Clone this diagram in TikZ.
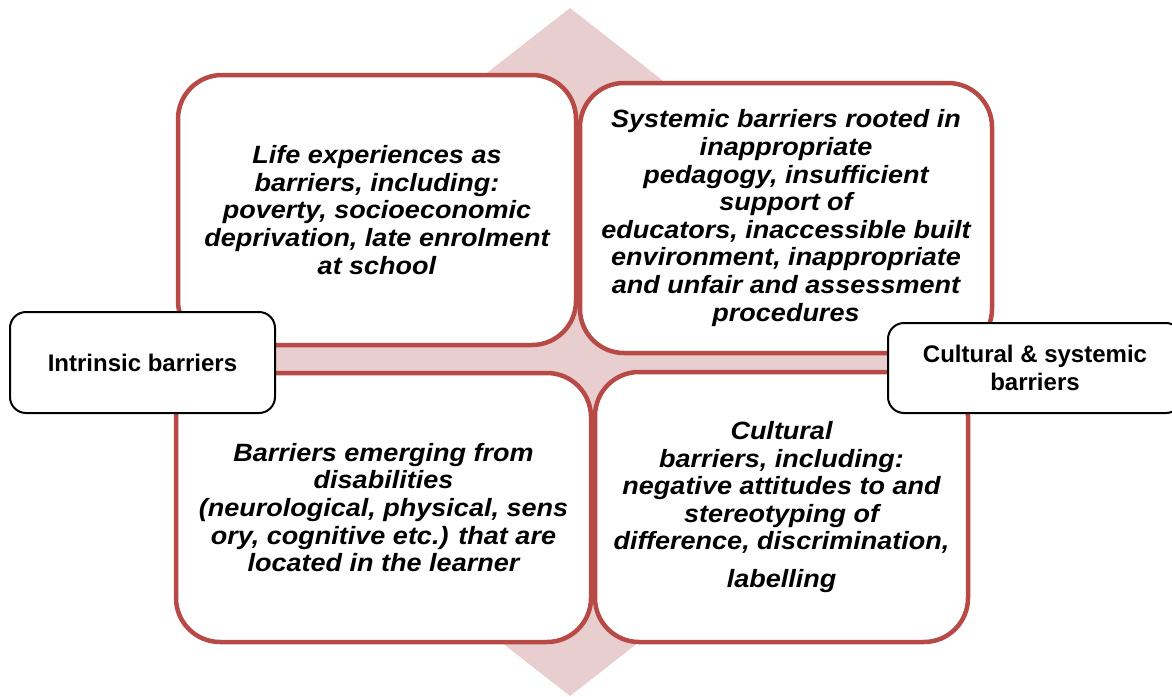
\documentclass[tikz,border=0pt]{standalone}
\usepackage{fontspec}
\setmainfont{Liberation Sans}
\newfontfamily\quadfont[FakeStretch=1.08]{Liberation Sans}
\definecolor{quadred}{RGB}{183,74,71}
\definecolor{diapink}{RGB}{232,206,206}
\tikzset{
  quad/.style={draw=quadred, line width=4.5pt, fill=white, rounded corners=44pt,
    inner sep=0pt, align=center, font=\quadfont\fontsize{25}{27.6}\selectfont\bfseries\itshape},
  lbl/.style={draw=black, line width=2pt, fill=white, rounded corners=16pt,
    inner sep=0pt, align=center, font=\fontsize{24}{28}\selectfont\bfseries}
}
\begin{document}
\begin{tikzpicture}[x=1pt,y=-1pt]
\useasboundingbox (0,0) rectangle (1172,696);
% background diamond
\fill[diapink] (570,8) coordinate (dtop) -- (1010,352) coordinate (dright)
  -- (570,696) coordinate (dbot) -- (130,352) coordinate (dleft) -- cycle;
% quadrants
\node[quad, minimum width=398pt, minimum height=270pt] (tl) at (377,210)
  {Life experiences as\\barriers, including:\\poverty, socioeconomic\\deprivation, late enrolment\\at school};
\node[quad, minimum width=412pt, minimum height=270pt] (tr) at (786,218)
  {Systemic barriers rooted in\\inappropriate\\pedagogy, insufficient\\support of\\educators, inaccessible built\\environment, inappropriate\\and unfair and assessment\\procedures};
\node[quad, minimum width=415pt, minimum height=269pt] (bl) at (383.5,507.5)
  {Barriers emerging from\\disabilities\\(neurological, physical, sens\\ory, cognitive etc.) that are\\located in the learner};
\node[quad, minimum width=373pt, minimum height=270pt] (br) at (781.5,507)
  {Cultural\\barriers, including:\\negative attitudes to and\\stereotyping of\\difference, discrimination,\\[10pt]labelling};
% labels
\node[lbl, minimum width=265pt, minimum height=101pt] (intr) at (142.5,362.5)
  {Intrinsic barriers};
\node[lbl, minimum width=294pt, minimum height=90pt] (cult) at (1035,368)
  {Cultural \& systemic\\barriers};
\end{tikzpicture}
\end{document}
